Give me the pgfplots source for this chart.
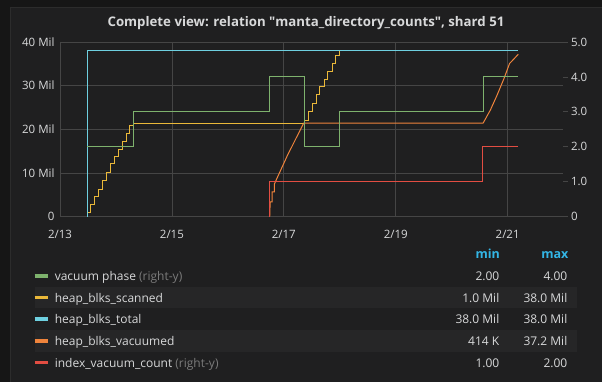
\documentclass[border=0pt]{standalone}
\usepackage{pgfplots}
\pgfplotsset{compat=1.18}
\usepackage{fontspec}
\setmainfont{Open Sans}
\newcommand\sq{\XeTeXglyph\XeTeXcharglyph"0022\relax}
\definecolor{outerbg}{HTML}{161616}
\definecolor{panelbg}{HTML}{1F1F20}
\definecolor{panelborder}{HTML}{2C2C2C}
\definecolor{rowbg}{HTML}{262627}
\definecolor{gridc}{HTML}{454545}
\definecolor{txt}{HTML}{D8D9DA}
\definecolor{dimtxt}{HTML}{7B7B7B}
\definecolor{hdr}{HTML}{33B5E5}
\definecolor{cgreen}{HTML}{7EB26D}
\definecolor{cyellow}{HTML}{EAB839}
\definecolor{ccyan}{HTML}{6ED0E0}
\definecolor{corange}{HTML}{EF843C}
\definecolor{cred}{HTML}{E24D42}
\begin{document}
\begin{tikzpicture}[x=1pt,y=1pt]
\path[use as bounding box] (0,0) rectangle (602,382);
\fill[outerbg] (0,0) rectangle (602,382);
\fill[panelbg] (10,0) rectangle (602,375);
\draw[panelborder, line width=1pt] (10.5,0) -- (10.5,374.5) -- (602,374.5);
\node[txt, inner sep=0, font=\fontsize{13.25}{15}\selectfont\bfseries] at (306,359.3) {Complete view: relation \sq manta\_directory\_counts\sq, shard 51};

% left axis
\begin{axis}[
  at={(60pt,165.3pt)}, anchor=south west,
  scale only axis, width=502.5pt, height=174.7pt,
  xmin=0, xmax=8.98, ymin=0, ymax=40,
  axis line style={draw=none},
  xtick={0,2,4,6,8}, xticklabels={2/13,2/15,2/17,2/19,2/21},
  ytick={0,10,20,30,40}, yticklabels={0,10 Mil,20 Mil,30 Mil,40 Mil},
  major tick length=0pt,
  grid=major, grid style={gridc, line width=0.8pt},
  tick label style={txt, font=\fontsize{11.5}{13}\selectfont},
  /pgf/number format/assume math mode=true,
  yticklabel style={xshift=-2pt},
  xticklabel style={yshift=-9.5pt},
  clip=false,
]
% heap_blks_scanned
\addplot[cyellow, line width=1pt, const plot] coordinates {
(0.49,1.0) (0.552,2.84) (0.617,4.58) (0.688,6.34) (0.760,8.24) (0.831,10.07)
(0.903,12.07) (0.974,13.74) (1.040,15.5) (1.112,17.27) (1.183,19.1) (1.249,20.84)
(1.321,21.4) (4.371,22.1) (4.442,24.0) (4.514,26.0) (4.575,27.9) (4.646,29.8)
(4.718,31.5) (4.789,33.2) (4.861,35.1) (4.932,37.0) (4.991,38.0) (8.19,38.0)
};
% heap_blks_total
\addplot[ccyan, line width=1pt] coordinates {
(0.49,0) (0.49,38.0) (8.19,38.0)
};
% heap_blks_vacuumed
\addplot[corange, line width=1pt] coordinates {
(3.745,0) (3.750,0.414) (3.755,3.4) (3.79,3.4) (3.792,5.7) (3.83,5.7) (3.832,7.5)
(3.86,8.3) (4.056,13.8) (4.353,21.4) (7.56,21.4) (7.69,24.4) (7.81,27.8)
(7.93,31.5) (8.035,35.1) (8.096,35.9) (8.19,37.2)
};
\end{axis}

% right axis
\begin{axis}[
  at={(60pt,165.3pt)}, anchor=south west,
  scale only axis, width=502.5pt, height=174.7pt,
  xmin=0, xmax=8.98, ymin=0, ymax=5,
  axis x line=none, axis y line*=right,
  axis line style={draw=none},
  ytick={0,1,2,3,4,5}, yticklabels={0,1.0,2.0,3.0,4.0,5.0},
  tick align=outside, major tick length=5pt,
  ytick style={gridc, line width=0.8pt},
  tick label style={txt, font=\fontsize{11.5}{13}\selectfont},
  clip=false,
]
% vacuum phase
\addplot[cgreen, line width=1pt, const plot] coordinates {
(0.49,2) (1.321,3) (3.745,4) (4.371,2) (5.0,3) (7.565,4) (8.19,4)
};
% index_vacuum_count
\addplot[cred, line width=1pt, const plot] coordinates {
(3.745,0) (3.745,1) (7.555,2) (8.19,2)
};
\end{axis}

% legend table
\fill[rowbg] (34.6,73.7) rectangle (577,95.3);
\fill[rowbg] (34.6,30.3) rectangle (577,52);
\node[hdr, anchor=mid east, inner sep=0, font=\fontsize{12.5}{14}\selectfont\bfseries] at (500,126) {min};
\node[hdr, anchor=mid east, inner sep=0, font=\fontsize{12.5}{14}\selectfont\bfseries] at (568.5,126) {max};
\foreach \yy/\col/\name/\mn/\mx in {
  106/cgreen/{vacuum phase \textcolor{dimtxt}{(right-y)}}/2.00/4.00,
  84.5/cyellow/{heap\_blks\_scanned}/1.0 Mil/38.0 Mil,
  63/ccyan/{heap\_blks\_total}/38.0 Mil/38.0 Mil,
  41/corange/{heap\_blks\_vacuumed}/414 K/37.2 Mil,
  19.5/cred/{index\_vacuum\_count \textcolor{dimtxt}{(right-y)}}/1.00/2.00}{
  \draw[\col, line width=3.3pt] (34.6,\yy) -- (48,\yy);
  \node[txt, anchor=mid west, inner sep=0, font=\fontsize{12}{14}\selectfont] at (54.6,\yy-2.2) {\name};
  \node[txt, anchor=mid east, inner sep=0, font=\fontsize{12}{14}\selectfont] at (499.5,\yy-2.2) {\mn};
  \node[txt, anchor=mid east, inner sep=0, font=\fontsize{12}{14}\selectfont] at (567.5,\yy-2.2) {\mx};
}
\end{tikzpicture}
\end{document}
